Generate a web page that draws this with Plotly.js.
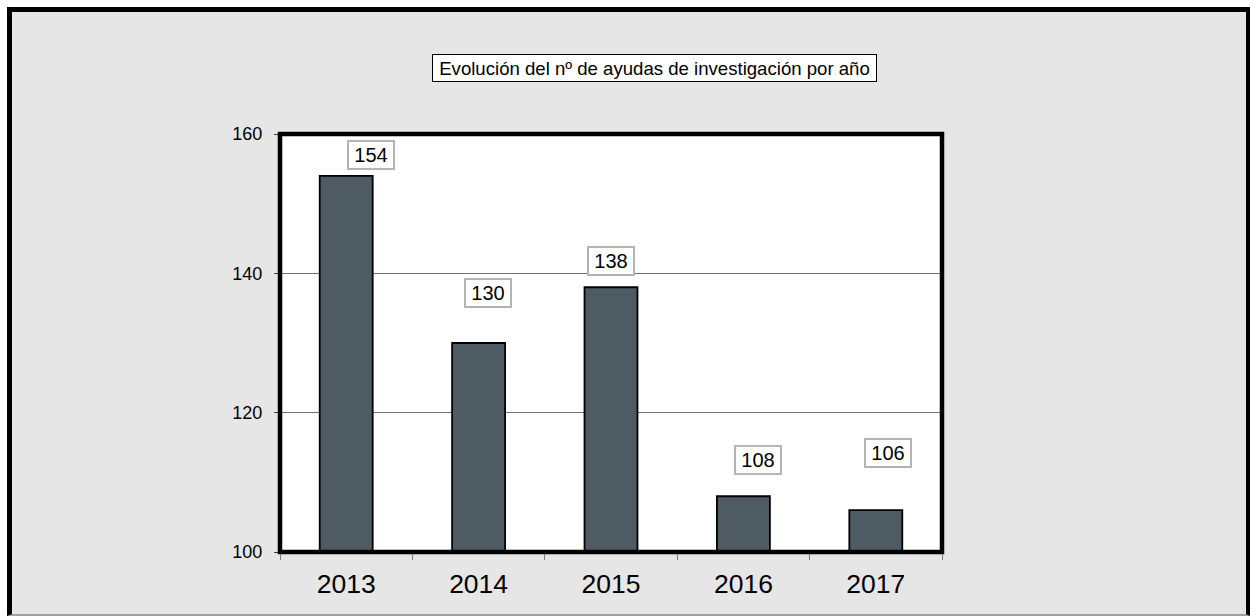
<!DOCTYPE html>
<html>
<head>
<meta charset="utf-8">
<script src="https://cdn.plot.ly/plotly-3.0.1.min.js"></script>
<style>
  html, body { margin: 0; padding: 0; background: #ffffff; }
  #frame {
    position: absolute; left: 7px; top: 7px;
    width: 1243px; height: 609px; box-sizing: border-box;
    border-top: 5px solid #000; border-left: 5px solid #000;
    border-right: 4px solid #000; border-bottom: 2px solid #a0a0a0;
    background: #e6e6e6;
  }
  #chart { width: 1234px; height: 602px; }
</style>
</head>
<body>
<div id="frame"><div id="chart"></div></div>
<script>
// Data
const years = ['2013', '2014', '2015', '2016', '2017'];
const ayudas = [154, 130, 138, 108, 106];
const yTicks = [100, 120, 140, 160];
const chartTitle = 'Evolución del nº de ayudas de investigación por año';

// Label box placement (pixels relative to each bar top) – layout only
const labelDX = [25, 9, 0, 15, 12];
const labelDY = [21, 50, 26, 36, 57];

const FONT = 'Liberation Sans, Arial, sans-serif';

const trace = {
  type: 'bar',
  x: years,
  y: ayudas,
  marker: { color: '#4f5b63', line: { color: '#000000', width: 1.8 } },
  hoverinfo: 'x+y'
};

// annotations on a category axis: x given as the category index
const annotations = years.map((yr, i) => ({
  xref: 'x', yref: 'y', x: i, y: ayudas[i],
  xshift: labelDX[i], yshift: labelDY[i],
  text: String(ayudas[i]), showarrow: false,
  font: { family: FONT, size: 20, color: '#000' },
  bgcolor: '#ffffff', bordercolor: '#b4b4b4', borderwidth: 2, borderpad: 0,
  width: 44, height: 26, align: 'center', valign: 'middle'
}));

annotations.push({
  xref: 'paper', yref: 'paper', x: 0.565, y: 1.158,
  xanchor: 'center', yanchor: 'middle',
  text: chartTitle, showarrow: false,
  font: { family: FONT, size: 18.6, color: '#000' },
  bgcolor: '#ffffff', bordercolor: '#000000', borderwidth: 1, borderpad: 0,
  width: 443, height: 26, align: 'center', valign: 'middle'
});

const layout = {
  width: 1234, height: 602,
  margin: { l: 268, r: 304, t: 122, b: 62 },
  paper_bgcolor: '#e6e6e6',
  plot_bgcolor: '#ffffff',
  showlegend: false,
  bargap: 0.6,
  xaxis: {
    type: 'category',
    range: [-0.5, years.length - 0.5],
    tickson: 'boundaries',
    ticks: 'outside', ticklen: 7, tickwidth: 1, tickcolor: '#808080',
    showgrid: false, showline: false, zeroline: false,
    tickfont: { family: FONT, size: 26.5, color: '#000' },
    ticklabelstandoff: 13,
    fixedrange: true
  },
  yaxis: {
    range: [100, 160],
    tickvals: yTicks,
    ticktext: yTicks.map(String),
    ticks: 'outside', ticklen: 5, tickwidth: 1, tickcolor: '#404040',
    showgrid: true, gridcolor: '#707070', gridwidth: 1,
    showline: false, zeroline: false,
    tickfont: { family: FONT, size: 18, color: '#000' },
    ticklabelstandoff: 8,
    fixedrange: true
  },
  shapes: [{
    type: 'rect', xref: 'paper', yref: 'paper', x0: 0, x1: 1, y0: 0, y1: 1,
    line: { color: '#000000', width: 4.5 }, fillcolor: 'rgba(0,0,0,0)', layer: 'above'
  }],
  annotations: annotations
};

Plotly.newPlot('chart', [trace], layout, { displayModeBar: false, staticPlot: true });
</script>
</body>
</html>
